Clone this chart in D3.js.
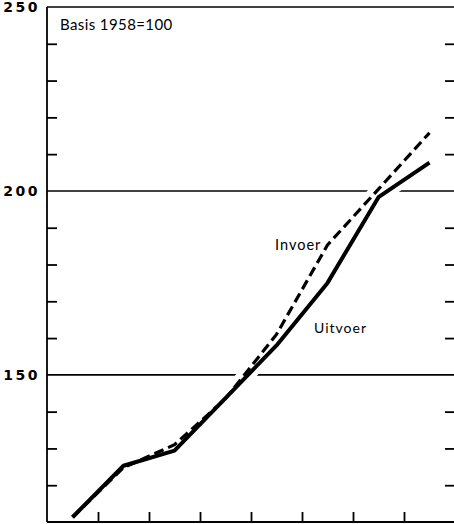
<!DOCTYPE html>
<html><head><meta charset="utf-8">
<script src="https://cdn.jsdelivr.net/npm/d3@7"></script>
<style>body{margin:0;background:#fff}svg{display:block}</style>
</head><body>
<script>
const years = ["1959","1960","1961","1962","1963","1964","1965","1966"];
const uitvoer = [111.3, 125.3, 129.4, 143.7, 158.0, 175.0, 198.3, 207.7];
const invoer  = [111.3, 124.8, 131.0, 143.5, 161.0, 185.3, 200.5, 215.8];
const yLabels = [150, 200, 250];
const yMinor = [120,130,140,160,170,180,190,210,220,230,240];
const gridVals = [150, 200, 250];

const W = 454, H = 524;
const svg = d3.select("body").append("svg").attr("width", W).attr("height", H);
const x = d3.scaleBand().domain(years).range([47, 455]).paddingInner(0).paddingOuter(0);
const y = d3.scaleLinear().domain([110, 250]).range([522, 7]);
const cx = d => x(d) + x.bandwidth()/2;

// gridlines
svg.selectAll(".grid").data(gridVals).join("line")
  .attr("x1", 47).attr("x2", W).attr("y1", d => y(d)).attr("y2", d => y(d))
  .attr("stroke", "#000").attr("stroke-width", 1.6);

const line = d3.line().x((d,i) => cx(years[i])).y(d => y(d));

// white halo
[invoer, uitvoer].forEach(s => {
  svg.append("path").datum(s).attr("d", line).attr("fill","none")
    .attr("stroke","#fff").attr("stroke-width", 14).attr("stroke-linejoin","round");
});

// left axis
svg.append("g").attr("transform","translate(47,0)")
  .call(d3.axisRight(y).tickValues(yMinor).tickSize(10).tickFormat(""))
  .call(g => g.select(".domain").remove())
  .call(g => g.selectAll("line").attr("stroke","#000").attr("stroke-width",1.8));
svg.append("line").attr("x1",47).attr("x2",47).attr("y1",y(250)).attr("y2",y(110))
  .attr("stroke","#000").attr("stroke-width",1.8);
// right ticks
svg.append("g").attr("transform","translate(455,0)")
  .call(d3.axisLeft(y).tickValues(yMinor).tickSize(10).tickFormat(""))
  .call(g => g.select(".domain").remove())
  .call(g => g.selectAll("line").attr("stroke","#000").attr("stroke-width",1.8));
// bottom axis
const xb = d3.scaleLinear().domain([0, years.length]).range([47, 455]);
svg.append("g").attr("transform","translate(0,"+y(110)+")")
  .call(d3.axisTop(xb).tickValues(d3.range(1, years.length)).tickSize(10).tickFormat(""))
  .call(g => g.select(".domain").remove())
  .call(g => g.selectAll("line").attr("stroke","#000").attr("stroke-width",1.8));
svg.append("line").attr("x1",47).attr("x2",W).attr("y1",y(110)).attr("y2",y(110))
  .attr("stroke","#000").attr("stroke-width",2);

// y labels
svg.selectAll(".ylab").data(yLabels).join("text")
  .attr("x", 40).attr("y", d => y(d)).attr("dy","0.36em")
  .attr("text-anchor","end")
  .attr("font-family","DejaVu Sans").attr("font-weight","bold")
  .attr("font-size", 14).attr("letter-spacing", 2.5)
  .text(d => d);

// series
svg.append("path").datum(uitvoer).attr("d", line).attr("fill","none")
  .attr("stroke","#000").attr("stroke-width", 4).attr("stroke-linejoin","round");
svg.append("path").datum(invoer).attr("d", line).attr("fill","none")
  .attr("stroke","#000").attr("stroke-width", 3.2).attr("stroke-dasharray","10,5");

// text labels
const tf = "Lato";
svg.append("text").attr("x", 60).attr("y", 30).attr("font-family", tf)
  .attr("font-size", 15).attr("letter-spacing", 0.4).text("Basis 1958=100");
svg.append("text").attr("x", 275).attr("y", 250).attr("font-family", tf)
  .attr("font-size", 14.5).attr("letter-spacing", 1).text("Invoer");
svg.append("text").attr("x", 314).attr("y", 333).attr("font-family", tf)
  .attr("font-size", 14).attr("letter-spacing", 1).text("Uitvoer");
</script>
</body></html>
